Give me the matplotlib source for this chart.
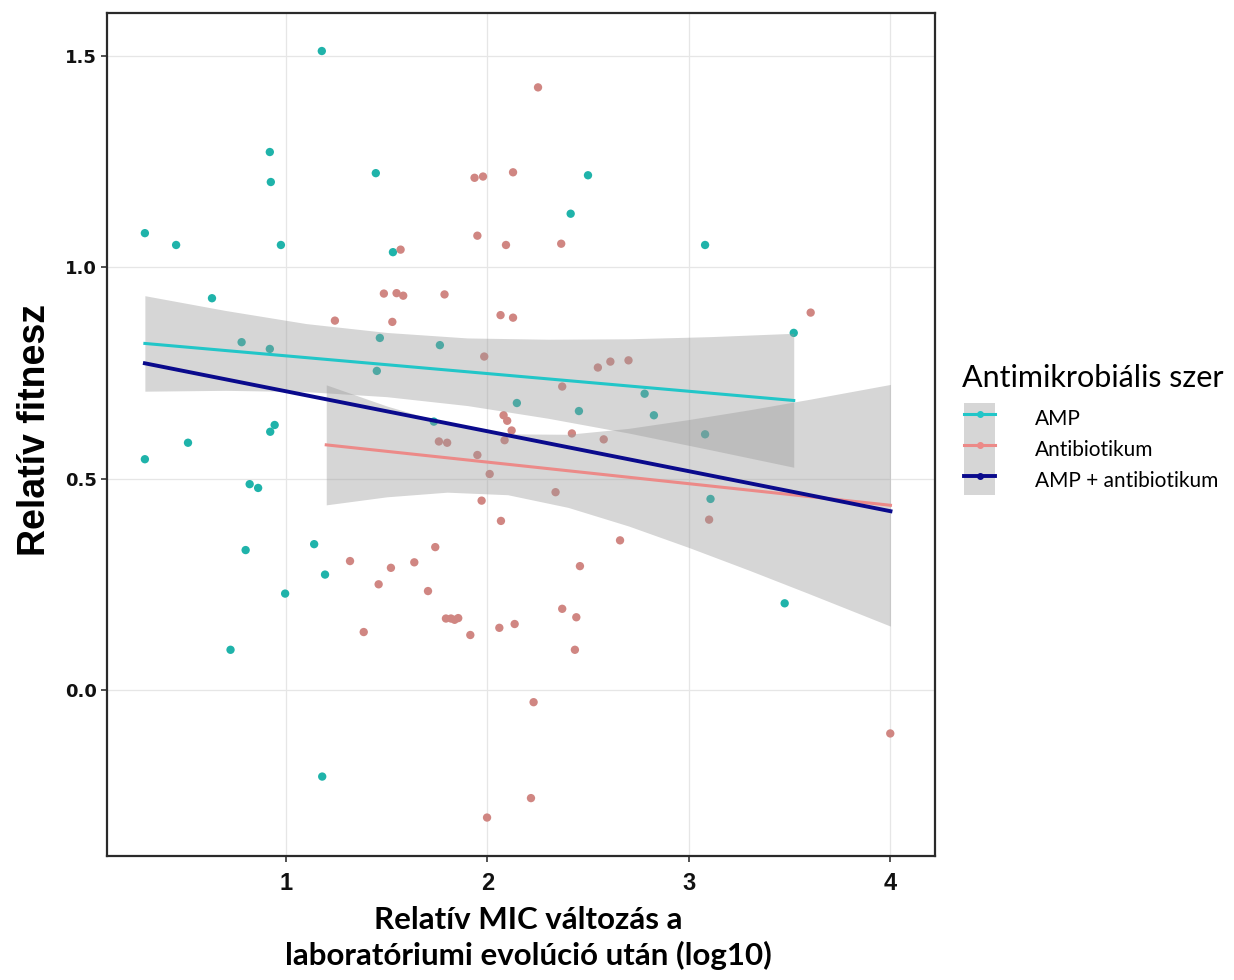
import matplotlib
matplotlib.use("Agg")
import matplotlib.pyplot as plt
from matplotlib.lines import Line2D
from matplotlib.patches import Patch

# scatter points
amp_x = [0.30, 0.455, 0.633, 0.30, 0.514, 0.78, 0.92, 0.925, 0.975, 0.92,
         0.922, 0.944, 0.82, 0.862, 0.80, 0.725, 0.996, 1.14, 1.194, 1.18,
         1.178, 1.446, 1.466, 1.451, 1.531, 1.764, 1.734, 2.146, 2.413, 2.499,
         2.454, 2.78, 2.826, 3.08, 3.08, 3.107, 3.475, 3.52]
amp_y = [1.081, 1.053, 0.927, 0.546, 0.585, 0.823, 1.273, 1.202, 1.053, 0.807,
         0.611, 0.627, 0.487, 0.478, 0.331, 0.095, 0.228, 0.345, 0.273, -0.205,
         1.512, 1.223, 0.833, 0.755, 1.036, 0.816, 0.635, 0.679, 1.127, 1.218,
         0.660, 0.701, 0.650, 1.053, 0.605, 0.452, 0.205, 0.845]

ab_x = [1.243, 1.386, 1.318, 1.46, 1.486, 1.528, 1.521, 1.549, 1.569, 1.582,
        1.637, 1.705, 1.741, 1.759, 1.787, 1.794, 1.80, 1.819, 1.837, 1.855,
        1.915, 1.936, 1.95, 1.95, 1.971, 1.978, 1.984, 1.998, 2.011, 2.059,
        2.065, 2.067, 2.08, 2.085, 2.092, 2.098, 2.12, 2.127, 2.127, 2.135,
        2.216, 2.229, 2.251, 2.338, 2.366, 2.371, 2.371, 2.419, 2.434, 2.441,
        2.459, 2.548, 2.577, 2.61, 2.658, 2.70, 3.10, 3.604, 3.999]
ab_y = [0.874, 0.137, 0.305, 0.250, 0.938, 0.871, 0.289, 0.939, 1.042, 0.933,
        0.302, 0.234, 0.338, 0.588, 0.936, 0.169, 0.585, 0.169, 0.166, 0.170,
        0.130, 1.212, 1.075, 0.556, 0.448, 1.215, 0.789, -0.302, 0.511, 0.147,
        0.887, 0.400, 0.650, 0.591, 1.053, 0.637, 0.614, 1.225, 0.881, 0.156,
        -0.256, -0.029, 1.426, 0.468, 1.056, 0.718, 0.192, 0.607, 0.095, 0.172,
        0.293, 0.763, 0.593, 0.777, 0.354, 0.780, 0.403, 0.893, -0.103]

# fitted lines (end points) and confidence bands
amp_fit_x = [0.30, 3.52]
amp_fit_y = [0.820, 0.685]
ab_fit_x = [1.20, 4.00]
ab_fit_y = [0.580, 0.437]
all_fit_x = [0.30, 4.00]
all_fit_y = [0.773, 0.423]

amp_band_x = [0.3, 0.7, 1.1, 1.5, 1.9, 2.3, 2.7, 3.1, 3.52]
amp_band_lo = [0.707, 0.709, 0.706, 0.694, 0.673, 0.643, 0.608, 0.569, 0.527]
amp_band_hi = [0.933, 0.898, 0.867, 0.846, 0.833, 0.830, 0.831, 0.836, 0.844]

ab_band_x = [1.2, 1.5, 1.8, 2.1, 2.4, 2.7, 3.0, 3.3, 3.6, 4.0]
ab_band_lo = [0.438, 0.457, 0.468, 0.462, 0.432, 0.388, 0.337, 0.283, 0.227, 0.151]
ab_band_hi = [0.722, 0.672, 0.630, 0.606, 0.605, 0.619, 0.640, 0.663, 0.688, 0.723]

labels = ["AMP", "Antibiotikum", "AMP + antibiotikum"]
pt_teal = "#1fb3aa"
pt_salmon = "#d08682"
ln_teal = "#22c6c8"
ln_salmon = "#ec8a88"
ln_blue = "#0a0a8c"

fig = plt.figure(figsize=(12.34, 9.8), dpi=100)
ax = fig.add_axes([107 / 1234, 1 - 856 / 980, (935 - 107) / 1234, (856 - 13) / 980])

ax.scatter(amp_x, amp_y, s=36, color=pt_teal, edgecolors="none", zorder=2)
ax.scatter(ab_x, ab_y, s=36, color=pt_salmon, edgecolors="none", zorder=2)

ax.fill_between(amp_band_x, amp_band_lo, amp_band_hi, color="#999999", alpha=0.4,
                linewidth=0, zorder=3)
ax.fill_between(ab_band_x, ab_band_lo, ab_band_hi, color="#999999", alpha=0.4,
                linewidth=0, zorder=3)

ax.plot(amp_fit_x, amp_fit_y, color=ln_teal, lw=2.2, zorder=4)
ax.plot(ab_fit_x, ab_fit_y, color=ln_salmon, lw=2.2, zorder=4)
ax.plot(all_fit_x, all_fit_y, color=ln_blue, lw=2.8, zorder=5)

ax.set_xlim(0.112, 4.221)
ax.set_ylim(-0.393, 1.602)
ax.set_xticks([1, 2, 3, 4])
ax.set_yticks([0.0, 0.5, 1.0, 1.5])
ax.set_xticklabels(["1", "2", "3", "4"])
ax.set_yticklabels(["0.0", "0.5", "1.0", "1.5"])
ax.grid(True, color="#e6e6e6", lw=0.9, zorder=0)
ax.set_axisbelow(True)
for sp in ax.spines.values():
    sp.set_color("#2a2a2a")
    sp.set_linewidth(1.6)
ax.tick_params(axis="both", direction="out", length=4, width=1.2, color="#333333")
ax.tick_params(axis="y", pad=3.5)
ax.tick_params(axis="x", pad=7.5)
for t in ax.get_yticklabels():
    t.set_fontfamily(["DejaVu Sans"])
    t.set_fontweight("bold")
    t.set_fontsize(13)
    t.set_color("#111111")
for t in ax.get_xticklabels():
    t.set_fontfamily(["Liberation Sans", "DejaVu Sans"])
    t.set_fontweight("bold")
    t.set_fontsize(17)
    t.set_color("#111111")

fig.text(35 / 1234, 1 - 430 / 980, "Relatív fitnesz", rotation=90, ha="center", va="center",
         fontsize=27, fontweight="bold",
         family=["Liberation Sans", "DejaVu Sans"])
fig.text(528 / 1234, 1 - 938 / 980,
         "Relatív MIC változás a\nlaboratóriumi evolúció után (log10)",
         ha="center", va="center", fontsize=22.5, fontweight="bold",
         linespacing=1.3, family=["Lato", "DejaVu Sans"])

# legend: title as separate text so it sits where the original has it
fig.text(962 / 1234, 1 - 378 / 980, "Antimikrobiális szer", ha="left", va="center",
         fontsize=22, family=["Lato", "DejaVu Sans"])
key_bg = Patch(facecolor="#d6d6d6", edgecolor="none")
handles = [
    (key_bg, Line2D([], [], color=ln_teal, lw=2.2, marker="o", ms=4)),
    (key_bg, Line2D([], [], color=ln_salmon, lw=2.2, marker="o", ms=4)),
    (key_bg, Line2D([], [], color=ln_blue, lw=2.8, marker="o", ms=4)),
]
leg = fig.legend(handles, labels,
                 loc="upper left", bbox_to_anchor=(964 / 1234, 1 - 403 / 980),
                 frameon=False, borderpad=0, borderaxespad=0,
                 handlelength=1.5, handleheight=1.9,
                 handletextpad=1.9, labelspacing=0,
                 prop={"family": ["Lato", "DejaVu Sans"], "size": 15})

fig.savefig("out.png", dpi=100)
